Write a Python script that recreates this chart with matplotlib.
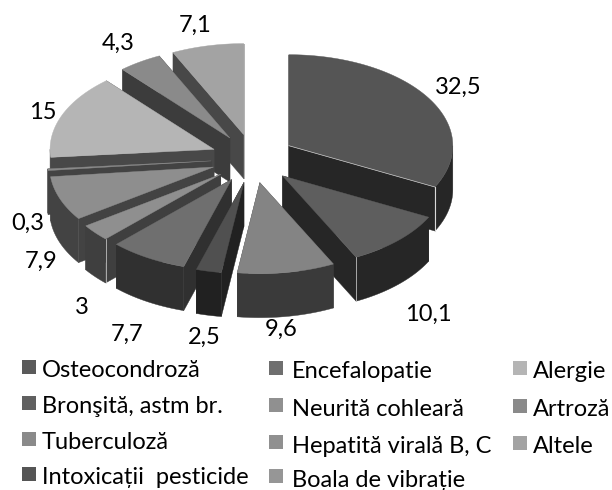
import numpy as np
import matplotlib
matplotlib.use("Agg")
import matplotlib.pyplot as plt
from matplotlib.patches import Rectangle

plt.rcParams['font.family'] = ['Lato', 'DejaVu Sans']

# data, clockwise from the top
categories = ["Osteocondroză", "Bronşită, astm br.", "Tuberculoză", "Intoxicații  pesticide",
              "Encefalopatie", "Neurită cohleară", "Hepatită virală B, C", "Boala de vibrație",
              "Alergie", "Artroză", "Altele"]
values = [32.5, 10.1, 9.6, 2.5, 7.7, 3, 7.9, 0.3, 15, 4.3, 7.1]

# grey for the top of each slice, and for its sides
top_colors = ["#555555", "#5e5e5e", "#848484", "#505050", "#6f6f6f", "#8f8f8f",
              "#8e8e8e", "#8a8a8a", "#b5b5b5", "#8a8a8a", "#a3a3a3"]
side_colors = ["#262626", "#262626", "#3a3a3a", "#212121", "#303030", "#3f3f3f",
               "#434343", "#434343", "#484848", "#3c3c3c", "#484848"]
legend_colors = ["#5a5a5a", "#606060", "#8a8a8a", "#555555", "#6f6f6f", "#909090",
                 "#909090", "#969696", "#b5b5b5", "#8a8a8a", "#a3a3a3"]

# label centres in pixels
label_pos = [(458, 85), (428, 312), (281, 327), (204, 335), (127, 332), (82, 305),
             (41, 259), (28, 221), (43, 110), (118, 41), (195, 23)]
# legend: marker x, text x, marker y per row, text baseline per row
legend_cols = [(22, 42), (269, 292), (513, 533)]
marker_rows = [[367, 403, 439, 474], [368, 405, 442, 476], [368, 406, 443]]
text_rows = [[377, 413, 449, 484], [378, 416, 453, 487], [378, 416, 453]]

# pie geometry in pixels
cx, cy = 253, 158.5
rx, ry = 164, 91
ex, ey = 42, 24.5
depth = 44

fig = plt.figure(figsize=(6.12, 4.9), dpi=100)
ax = fig.add_axes([0, 0, 1, 1])
ax.set_xlim(0, 612)
ax.set_ylim(490, 0)
ax.axis("off")


def arc(x0, y0, a, b):
    t = np.linspace(a, b, max(int(abs(b - a) * 40), 2))
    return x0 + rx * np.sin(t), y0 - ry * np.cos(t)


# angles measured clockwise from 12 o'clock
edges = np.cumsum([0] + values) / sum(values) * 2 * np.pi
slices = []
for i in range(len(values)):
    a, b = edges[i], edges[i + 1]
    mid = (a + b) / 2
    slices.append((cy - ey * np.cos(mid), cx + ex * np.sin(mid), a, b, i))

# back to front
for y0, x0, a, b, i in sorted(slices):
    side = side_colors[i]
    top = top_colors[i]
    # cut faces
    for ang in (a, b):
        xe, ye = x0 + rx * np.sin(ang), y0 - ry * np.cos(ang)
        ax.fill([x0, xe, xe, x0], [y0, ye, ye + depth, y0 + depth], color=side, lw=0.3)
    # outer wall, only the part that faces us
    lo, hi = max(a, np.pi / 2), min(b, 3 * np.pi / 2)
    if hi > lo:
        xs, ys = arc(x0, y0, lo, hi)
        ax.fill(np.r_[xs, xs[::-1]], np.r_[ys, ys[::-1] + depth], color=side, lw=0.3)
    # top
    xs, ys = arc(x0, y0, a, b)
    ax.fill(np.r_[x0, xs], np.r_[y0, ys], color=top, lw=0.3)

    # thin light edges the original has
    if i in (0, 1, 5):
        ang = a if i == 5 else b
        xe, ye = x0 + rx * np.sin(ang), y0 - ry * np.cos(ang)
        ax.plot([xe, xe], [ye, ye + depth], color="#d8d8d8", lw=0.8 if i == 0 else 0.5)
        if i == 0:
            ax.plot([x0, xe], [y0, ye], color="#c8c8c8", lw=0.5)

for v, (lx, ly) in zip(values, label_pos):
    ax.text(lx, ly + 8.5, f"{v:g}".replace(".", ","), ha="center", va="baseline",
            fontsize=17, color="black")

# legend
order = [[0, 1, 2, 3], [4, 5, 6, 7], [8, 9, 10]]
for col, idx in enumerate(order):
    mx, tx = legend_cols[col]
    for row, i in enumerate(idx):
        my = marker_rows[col][row]
        ax.add_patch(Rectangle((mx, my - 7), 14, 14, color=legend_colors[i], lw=0))
        ax.text(tx, text_rows[col][row], categories[i], ha="left", va="baseline",
                fontsize=17, color="black")

fig.savefig("out.png", dpi=100)
